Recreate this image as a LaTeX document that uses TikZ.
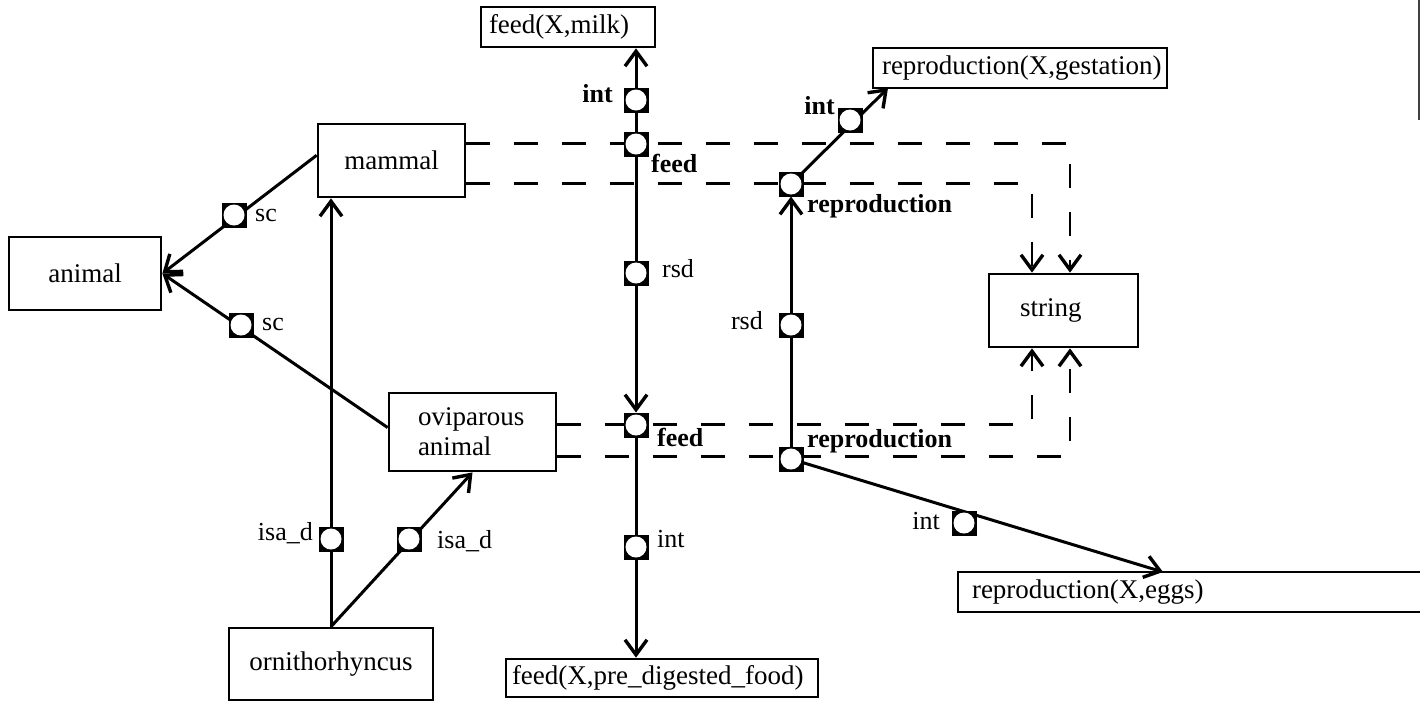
\documentclass[tikz,border=0pt]{standalone}
\usepackage{fontspec}
\setmainfont{Liberation Serif}
\usetikzlibrary{arrows.meta,calc}

\begin{document}
\begin{tikzpicture}[x=1pt,y=-1pt,
  box/.style={draw, line width=2.7pt, inner sep=0pt, font=\fontsize{27}{30}\selectfont},
  lbox/.style={box, align=left},
  lab/.style={inner sep=0pt, font=\fontsize{26}{30}\selectfont},
  blab/.style={inner sep=0pt, font=\fontsize{26}{30}\selectfont\bfseries},
  port/.style={minimum size=25pt, inner sep=0pt, fill=black,
    path picture={\fill[white] (path picture bounding box.center) circle (10.5pt);}},
  conn/.style={line width=3pt},
  tip/.style={-{Straight Barb[length=15pt,width=22pt,line width=3.4pt]}},
  arr/.style={conn, tip},
  link/.style={line width=2.7pt, dash pattern=on 24pt off 24pt},
  larr/.style={link, tip},
]
\useasboundingbox (0,0) rectangle (1420,702);

% concept boxes
\node[box, minimum width=147pt, minimum height=73pt] (mammal) at (391.5,160.5) {mammal};
\node[box, minimum width=152pt, minimum height=73pt] (animal) at (85,273.5) {animal};
\node[box, minimum width=204pt, minimum height=72pt] (orni) at (331,664) {ornithorhyncus};
\node[lbox, minimum width=167pt, minimum height=78pt, text width=109pt] (ovip) at (472.5,432) {oviparous\\animal};
\node[lbox, minimum width=149pt, minimum height=73pt, text width=87pt] (string) at (1063.5,310.5) {string};

% value boxes
\node[lbox, minimum width=174pt, minimum height=40pt, text width=158pt] (milk) at (568,27) {\mbox{feed(X,milk)}};
\node[lbox, minimum width=294pt, minimum height=40pt, text width=276pt] (gest) at (1020,68) {\mbox{reproduction(X,gestation)}};
\node[lbox, minimum width=312pt, minimum height=38pt, text width=300pt] (pre) at (662,678) {\mbox{feed(X,pre\_digested\_food)}};
\node[lbox, minimum width=466pt, minimum height=40pt, text width=438pt] (eggs) at (1191,592) {\mbox{reproduction(X,eggs)}};

% port positions
\path
  (636,100) coordinate (cim)
  (636,144) coordinate (cft)
  (791,184) coordinate (crt)
  (850,120) coordinate (cig)
  (234,215) coordinate (csa)
  (241,325) coordinate (csb)
  (636,273) coordinate (crf)
  (791,325) coordinate (crr)
  (636,425) coordinate (cfl)
  (791,459) coordinate (crl)
  (636,547) coordinate (cip)
  (964,523) coordinate (cie)
  (331,539) coordinate (cia)
  (409,539) coordinate (cib);

% arrival points on box borders
\coordinate (gin) at (888,88);
\coordinate (ein) at (1163,572);
\coordinate (sta) at ($(string.north)+(6.5,0)$);
\coordinate (stb) at ($(string.north)+(-31.5,0)$);
\coordinate (sba) at ($(string.south)+(-31.5,0)$);
\coordinate (sbb) at ($(string.south)+(6.5,0)$);

% dashed slot links into the string box
\draw[larr] (mammal.13) -| (sta);
\draw[larr] (mammal.-17) -| (stb);
\draw[larr] (ovip.5) -| (sba);
\draw[larr] (ovip.-16) -| (sbb);

% subclass and instance links
\draw[arr] (mammal.176) -- (animal.east);
\draw[arr] (ovip.177) -- (animal.east);
\draw[arr] (orni.north) -- (orni.north |- mammal.south);
\draw[arr] (orni.north) -- (ovip.south);

% feed slot
\draw[arr] (cft) -- (cft |- milk.south);
\draw[arr] (cft) -- ($(cfl)+(0,-12.5)$);
\draw[arr] (cfl) -- (cfl |- pre.north);

% reproduction slot
\draw[arr] (crl) -- ($(crt)+(0,12.5)$);
\draw[arr] (crt) -- (gin);
\draw[arr] (crl) -- (ein);

% ports
\foreach \c/\n in {cim/pim, cft/pft, crt/prt, cig/pig, csa/psa, csb/psb, crf/prf, crr/prr,
                   cfl/pfl, crl/prl, cip/pip, cie/pie, cia/pia, cib/pib}
  \node[port] (\n) at (\c) {};

% port labels
\node[blab, anchor=mid east] (lim) at (613,100) {int};
\node[blab, anchor=mid west] (lft) at (651,170) {feed};
\node[blab, anchor=mid west] (lrt) at (807,210) {reproduction};
\node[blab, anchor=mid east] (lig) at (835,112) {int};
\node[lab, anchor=mid west] (lsa) at (255,219) {sc};
\node[lab, anchor=mid west] (lsb) at (262,328) {sc};
\node[lab, anchor=mid west] (lrf) at (662,275) {rsd};
\node[lab, anchor=mid east] (lrr) at (763,327) {rsd};
\node[blab, anchor=mid west] (lfl) at (657,444) {feed};
\node[blab, anchor=mid west] (lrl) at (807,445) {reproduction};
\node[lab, anchor=mid west] (lip) at (657,545) {int};
\node[lab, anchor=mid east] (lie) at (940,527) {int};
\node[lab, anchor=mid east] (lia) at (313,538) {isa\_d};
\node[lab, anchor=mid west] (lib) at (437,546) {isa\_d};

% sheet edge at the top right
\draw[line width=1.5pt, black!75] (1419,0) -- (1419,120);
\end{tikzpicture}
\end{document}
